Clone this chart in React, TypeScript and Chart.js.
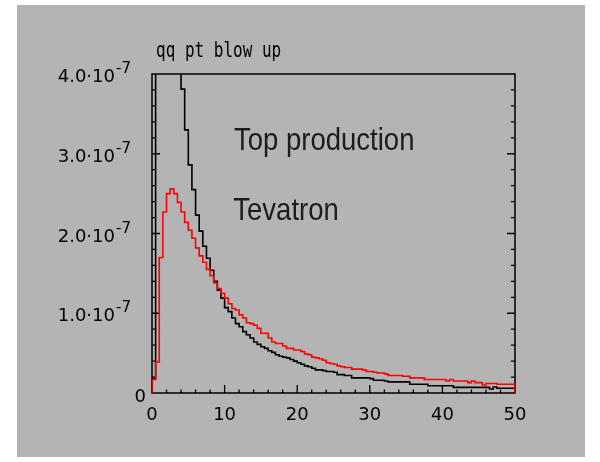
import React, { useEffect, useRef } from "react";
import { Chart, registerables } from "chart.js";

Chart.register(...registerables);

// ---- data ----
const BIN_START = 0;
const BIN_WIDTH = 0.5;
const Y_UNIT = 1e-7;

// pt bins of 0.5 from 0 to 50, values in units of 1e-7
const TEVATRON_VALUES = [
  0.17, 0.39, 1.7, 2.27, 2.5, 2.56, 2.5, 2.39, 2.27, 2.14,
  2.04, 1.94, 1.82, 1.72, 1.64, 1.55, 1.47, 1.38, 1.31, 1.25,
  1.19, 1.12, 1.06, 1.04, 0.98, 0.94, 0.88, 0.87, 0.85, 0.81,
  0.75, 0.75, 0.69, 0.64, 0.62, 0.62, 0.59, 0.56, 0.56, 0.54,
  0.54, 0.52, 0.49, 0.48, 0.45, 0.44, 0.43, 0.41, 0.38, 0.37,
  0.36, 0.34, 0.33, 0.32, 0.32, 0.3, 0.3, 0.3, 0.29, 0.27,
  0.27, 0.26, 0.25, 0.25, 0.24, 0.22, 0.22, 0.22, 0.22, 0.21,
  0.21, 0.19, 0.19, 0.19, 0.19, 0.17, 0.17, 0.17, 0.17, 0.17,
  0.17, 0.15, 0.17, 0.15, 0.15, 0.15, 0.15, 0.13, 0.15, 0.13,
  0.13, 0.1, 0.12, 0.12, 0.12, 0.11, 0.11, 0.11, 0.11, 0.11,
];

const BLOWUP_VALUES = [
  0.18, 5.2, 8.0, 7.6, 6.6, 5.6, 4.8, 4.2, 3.81, 3.3,
  2.86, 2.55, 2.23, 2.03, 1.84, 1.69, 1.54, 1.4, 1.29, 1.19,
  1.07, 1.02, 0.94, 0.87, 0.83, 0.77, 0.73, 0.69, 0.64, 0.61,
  0.58, 0.56, 0.53, 0.51, 0.48, 0.46, 0.45, 0.44, 0.42, 0.4,
  0.38, 0.36, 0.34, 0.33, 0.31, 0.29, 0.29, 0.28, 0.27, 0.27,
  0.26, 0.23, 0.23, 0.22, 0.22, 0.19, 0.19, 0.19, 0.19, 0.19,
  0.18, 0.16, 0.16, 0.16, 0.15, 0.14, 0.14, 0.14, 0.14, 0.14,
  0.14, 0.11, 0.11, 0.11, 0.11, 0.11, 0.09, 0.09, 0.09, 0.09,
  0.09, 0.09, 0.09, 0.07, 0.07, 0.07, 0.07, 0.07, 0.07, 0.07,
  0.07, 0.07, 0.07, 0.05, 0.075, 0.06, 0.06, 0.06, 0.06, 0.06,
];

const X_MIN = 0;
const X_MAX = 50;
const Y_MIN = 0;
const Y_MAX = 4e-7;

const X_TICKS = [0, 10, 20, 30, 40, 50];
const X_TICK_LABELS = ["0", "10", "20", "30", "40", "50"];
const X_MINOR_STEP = 2;

const Y_TICKS = [0, 1e-7, 2e-7, 3e-7, 4e-7];
const Y_TICK_LABELS = ["0", "1.0·10", "2.0·10", "3.0·10", "4.0·10"];
const Y_TICK_EXPONENTS = ["", "-7", "-7", "-7", "-7"];
const Y_MINOR_STEP = 0.2e-7;

const TITLE = "qq pt blow up";
const ANNOTATION_TEXTS = ["Top production", "Tevatron"];

// ---- helpers ----
function toHistogramPoints(values: number[]) {
  const pts: { x: number; y: number }[] = [{ x: BIN_START, y: 0 }];
  values.forEach((v, i) => pts.push({ x: BIN_START + i * BIN_WIDTH, y: v * Y_UNIT }));
  const end = BIN_START + values.length * BIN_WIDTH;
  pts.push({ x: end, y: values[values.length - 1] * Y_UNIT });
  pts.push({ x: end, y: 0 });
  return pts;
}

const framePlugin = {
  id: "pawFrame",
  beforeDatasetsDraw(chart: any) {
    const { ctx, chartArea: a, scales } = chart;
    const xs = scales.x;
    const ys = scales.y;
    ctx.save();
    ctx.strokeStyle = "#000";
    ctx.lineWidth = 1.5;
    ctx.strokeRect(a.left, a.top, a.right - a.left, a.bottom - a.top);

    ctx.lineWidth = 1.3;
    ctx.beginPath();
    const nY = Math.round((Y_MAX - Y_MIN) / Y_MINOR_STEP);
    for (let k = 1; k < nY; k++) {
      const v = Y_MIN + k * Y_MINOR_STEP;
      const major = Y_TICKS.some((t) => Math.abs(t - v) < Y_MINOR_STEP / 10);
      const len = major ? 8 : 4;
      const y = ys.getPixelForValue(v);
      ctx.moveTo(a.left, y);
      ctx.lineTo(a.left + len, y);
      ctx.moveTo(a.right, y);
      ctx.lineTo(a.right - len, y);
    }
    const nX = Math.round((X_MAX - X_MIN) / X_MINOR_STEP);
    for (let k = 1; k < nX; k++) {
      const v = X_MIN + k * X_MINOR_STEP;
      const major = X_TICKS.some((t) => Math.abs(t - v) < X_MINOR_STEP / 10);
      const len = major ? 8 : 3.5;
      const x = xs.getPixelForValue(v);
      ctx.moveTo(x, a.bottom);
      ctx.lineTo(x, a.bottom - len);
    }
    ctx.stroke();
    ctx.restore();
  },
  afterDraw(chart: any) {
    const { ctx, chartArea: a, scales } = chart;
    const xs = scales.x;
    const ys = scales.y;
    ctx.save();
    ctx.fillStyle = "#000";

    // y tick labels
    Y_TICKS.forEach((t, i) => {
      const y = ys.getPixelForValue(t);
      const exp = Y_TICK_EXPONENTS[i];
      ctx.textBaseline = "alphabetic";
      if (exp) {
        ctx.font = "18px 'DejaVu Sans'";
        ctx.textAlign = "right";
        ctx.fillText(Y_TICK_LABELS[i], a.left - 37, y + 8);
        ctx.font = "15px 'DejaVu Sans'";
        ctx.textAlign = "left";
        ctx.fillText(exp, a.left - 36, y - 1);
      } else {
        ctx.font = "18px 'DejaVu Sans'";
        ctx.textAlign = "right";
        ctx.fillText(Y_TICK_LABELS[i], a.left - 6, y + 8.5);
      }
    });

    // x tick labels
    ctx.font = "18px 'DejaVu Sans'";
    ctx.textAlign = "center";
    ctx.textBaseline = "alphabetic";
    X_TICKS.forEach((t, i) => {
      ctx.fillText(X_TICK_LABELS[i], xs.getPixelForValue(t), a.bottom + 27);
    });

    // title
    ctx.save();
    ctx.font = "16px 'DejaVu Sans Mono'";
    ctx.textAlign = "left";
    ctx.translate(a.left + 4, a.top - 17);
    ctx.scale(1, 1.28);
    ctx.fillText(TITLE, 0, 0);
    ctx.restore();

    // annotations
    const annPos = [
      { x: 11.3, y: 3.05e-7 },
      { x: 11.2, y: 2.17e-7 },
    ];
    ANNOTATION_TEXTS.forEach((txt, i) => {
      ctx.save();
      ctx.fillStyle = "#1c1c1c";
      ctx.font = "27.5px 'Liberation Sans'";
      ctx.textAlign = "left";
      ctx.translate(xs.getPixelForValue(annPos[i].x), ys.getPixelForValue(annPos[i].y));
      ctx.scale(1, 1.15);
      ctx.fillText(txt, 0, 0);
      ctx.restore();
    });

    ctx.restore();
  },
};

export default function App() {
  const canvasRef = useRef<HTMLCanvasElement | null>(null);

  useEffect(() => {
    if (!canvasRef.current) return;
    const chart = new Chart(canvasRef.current, {
      type: "line",
      data: {
        datasets: [
          {
            label: "Tevatron",
            data: toHistogramPoints(TEVATRON_VALUES),
            borderColor: "#ff0000",
            borderWidth: 1.6,
            stepped: "before",
            pointRadius: 0,
            fill: false,
          },
          {
            label: "qq pt blow up",
            data: toHistogramPoints(BLOWUP_VALUES),
            borderColor: "#000000",
            borderWidth: 1.6,
            stepped: "before",
            pointRadius: 0,
            fill: false,
          },
        ],
      },
      options: {
        animation: false,
        responsive: false,
        maintainAspectRatio: false,
        parsing: false as any,
        layout: { padding: { left: 152, right: 85, top: 74, bottom: 69 } },
        plugins: {
          legend: { display: false },
          tooltip: { enabled: false },
          title: { display: false },
        },
        scales: {
          x: { type: "linear", min: X_MIN, max: X_MAX, display: false },
          y: { type: "linear", min: Y_MIN, max: Y_MAX, display: false },
        },
      },
      plugins: [framePlugin],
    });
    return () => chart.destroy();
  }, []);

  return (
    <div style={{ position: "absolute", left: 0, top: 0, width: 600, height: 462, background: "#ffffff" }}>
      <div style={{ position: "absolute", left: 17, top: 5, width: 568, height: 452, background: "rgb(180,180,180)" }} />
      <canvas
        ref={canvasRef}
        width={600}
        height={462}
        style={{ position: "absolute", left: 0, top: 0, width: 600, height: 462 }}
      />
    </div>
  );
}
